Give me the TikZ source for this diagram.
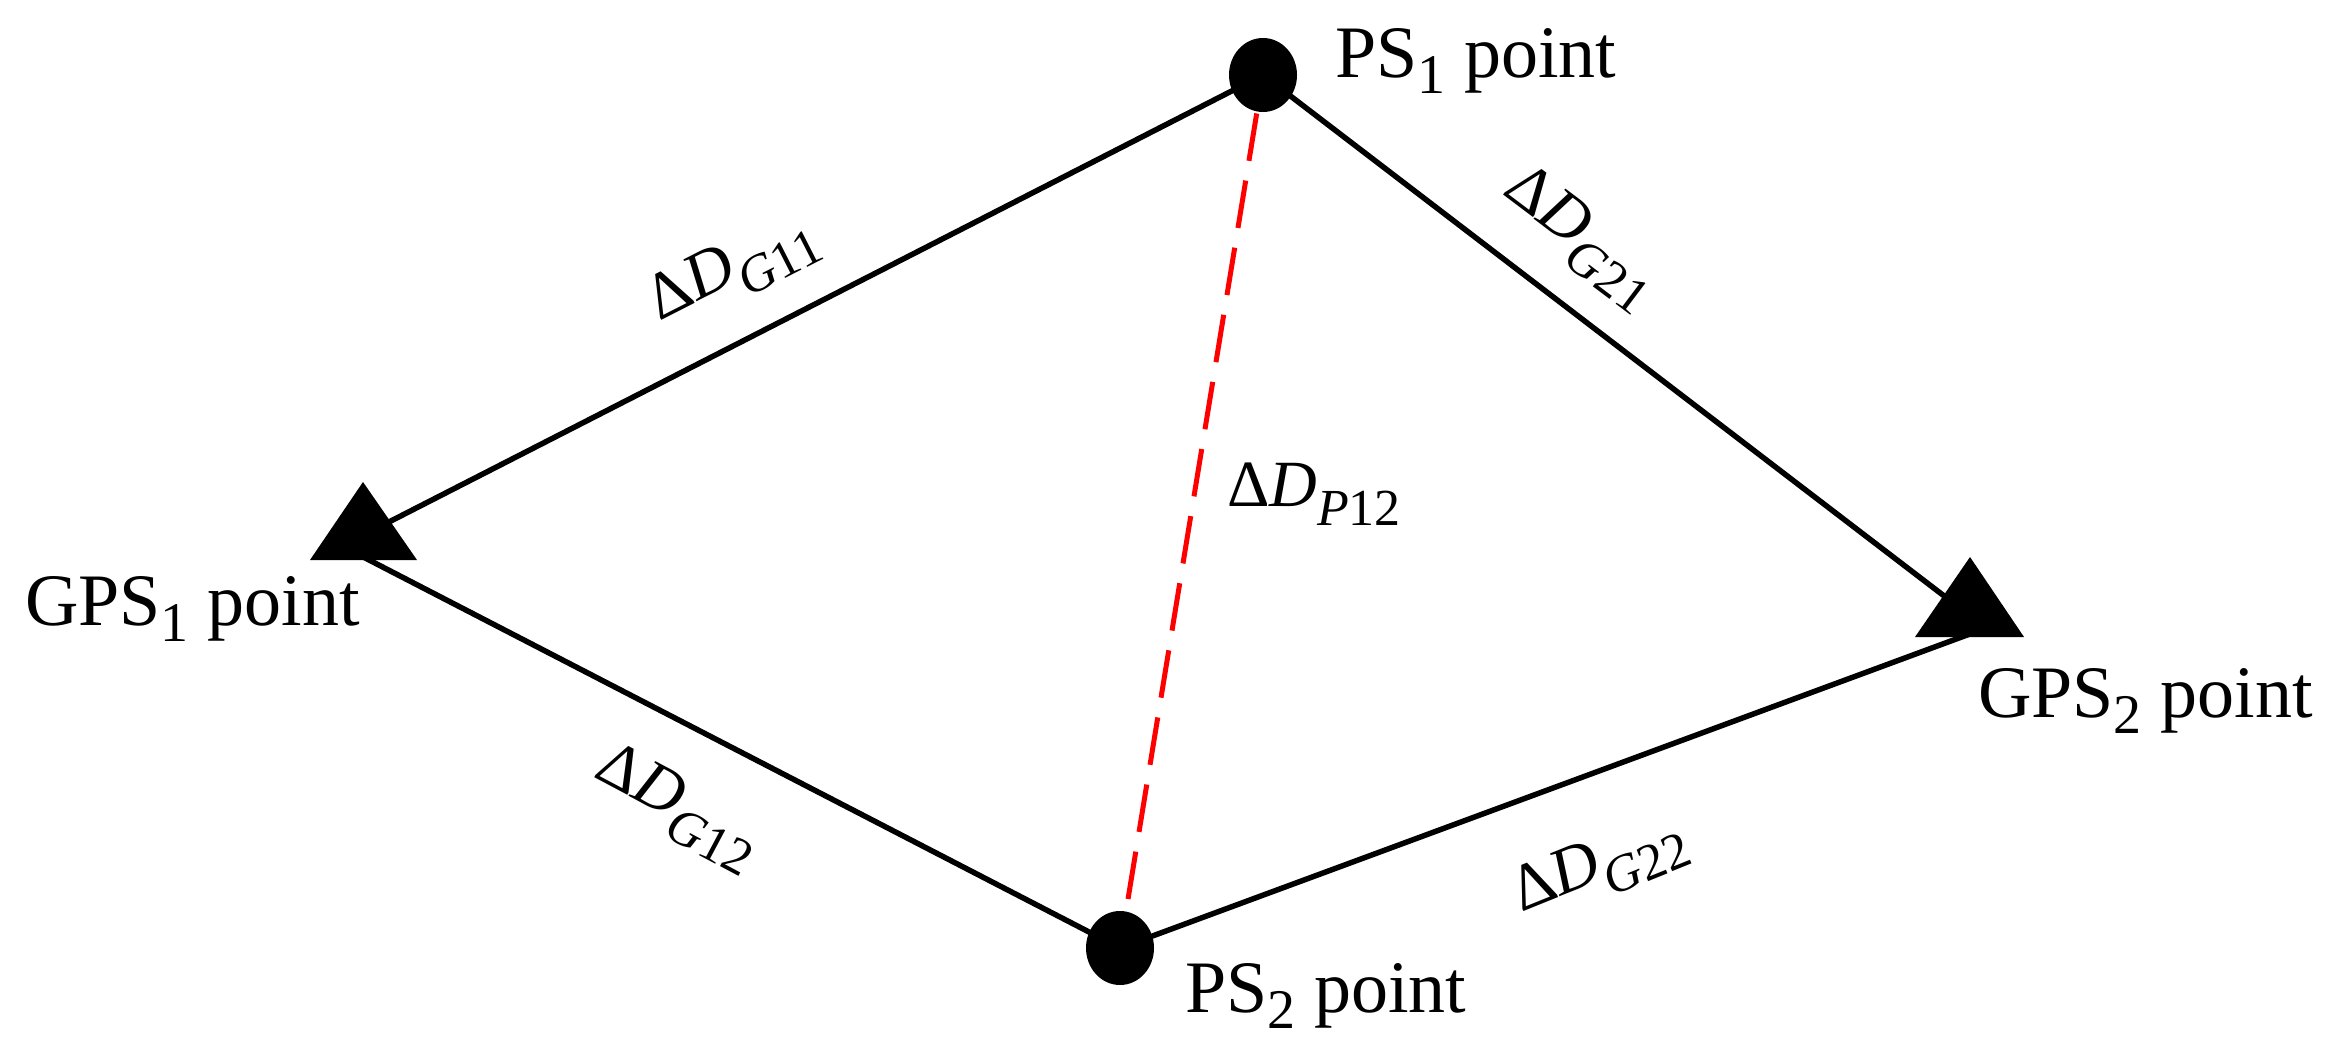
\documentclass[tikz,border=0pt]{standalone}
\usepackage{fontspec}
\setmainfont{Liberation Serif}
\usetikzlibrary{shapes.geometric,backgrounds}
\newcommand{\dlab}[2]{{\fontsize{66}{66}\selectfont Δ\textit{D}\raisebox{-19pt}{\fontsize{52}{52}\selectfont\textit{#1}#2}}}
\newcommand{\ptlab}[2]{{\fontsize{74}{74}\selectfont #1\raisebox{-16pt}{\fontsize{56}{56}\selectfont #2} point}}
\begin{document}
\begin{tikzpicture}[x=1pt,y=-1pt,
  edge/.style={line width=5.5pt,black},
  reddash/.style={line width=5pt,red,dash pattern=on 48pt off 20pt,dash phase=29pt},
  dot/.style={ellipse,fill=black,inner sep=0pt,minimum width=68pt,minimum height=74pt},
  tri/.style={fill=black},
  ptext/.style={anchor=base west,inner sep=0pt},
  dtext/.style={inner sep=0pt}]
\useasboundingbox (0,0) rectangle (2338,1064);
% junction points inside the triangles
\coordinate (G1) at (342,546);
\coordinate (G2) at (1986,628);
% triangles
\fill[tri] (363,482) -- (417,560) -- (310,560) -- cycle;
\fill[tri] (1970,557) -- (2024,637) -- (1915,637) -- cycle;
% PS points
\node[dot] (P1) at (1263,75) {};
\node[dot] (P2) at (1120,948) {};
\begin{scope}[on background layer]
\draw[edge] (G1) -- (P1.center);
\draw[edge] (P1.center) -- (G2);
\draw[edge] (G1) -- (P2.center);
\draw[edge] (P2.center) -- (G2);
\draw[reddash] (P1.center) -- (P2.center);
\end{scope}
% point labels
\node[ptext] (t1) at (1335,78) {\ptlab{PS}{1}};
\node[ptext] (t2) at (1185,1012) {\ptlab{PS}{2}};
\node[ptext] (t3) at (25,625) {\ptlab{GPS}{1}};
\node[ptext] (t4) at (1978,717) {\ptlab{GPS}{2}};
% distance labels
\node[dtext,rotate=27] (d11) at (733,270) {\dlab{G}{11}};
\node[dtext,rotate=-37] (d21) at (1580,238) {\dlab{G}{21}};
\node[dtext] (dp) at (1314,494) {\dlab{P}{12}};
\node[dtext,rotate=-28] (d12) at (677,808) {\dlab{G}{12}};
\node[dtext,rotate=22] (d22) at (1600,868) {\dlab{G}{22}};
\end{tikzpicture}
\end{document}
